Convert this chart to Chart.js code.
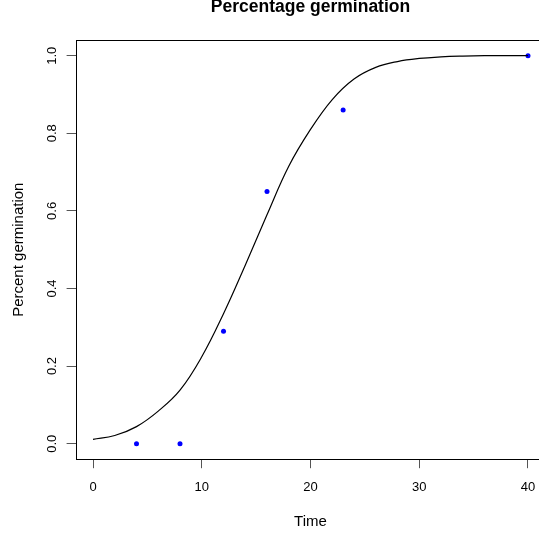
<!DOCTYPE html>
<html>
<head>
<meta charset="utf-8">
<script src="https://cdn.jsdelivr.net/npm/chart.js@4.4.0/dist/chart.umd.min.js"></script>
<style>
  html, body { margin: 0; padding: 0; background: #fff; overflow: hidden; }
  #wrap { width: 546px; height: 535px; }
</style>
</head>
<body>
<div id="wrap"><canvas id="germ" width="546" height="535" style="width:546px;height:535px"></canvas></div>
<script>
// observed germination
var times = [4, 8, 12, 16, 23, 40];
var germination = [0, 0, 0.29, 0.65, 0.86, 1.0];

// fitted curve
var fitTimes = [0, 2, 4, 6, 8, 10, 12, 14, 16, 18, 20, 22, 24, 26, 28, 30, 32, 34, 36, 38, 40];
var fitValues = [0.011, 0.021, 0.044, 0.084, 0.138, 0.224, 0.335, 0.46, 0.59, 0.715, 0.81, 0.887, 0.94, 0.97, 0.985, 0.993, 0.997, 0.999, 1.0, 1.0, 1.0];

// tick labels
var xTicks = [0, 10, 20, 30, 40];
var yTicks = [0, 0.2, 0.4, 0.6, 0.8, 1.0];

var FONT = '"Liberation Sans", Arial, sans-serif';
Chart.defaults.color = '#000';
Chart.defaults.font.family = FONT;

/**
box round the plot + rotated y labels (R style)
*/
var framePlugin = {
  id: 'frame',
  afterDraw: function(chart) {
    var ctx = chart.ctx, a = chart.chartArea, ys = chart.scales.y;
    ctx.save();
    ctx.strokeStyle = '#000';
    ctx.lineWidth = 1;
    ctx.strokeRect(Math.round(a.left) + 0.5, Math.round(a.top) + 0.5,
      Math.round(a.right - a.left), Math.round(a.bottom - a.top));
    ctx.fillStyle = '#000';
    ctx.font = '13px ' + FONT;
    ctx.textAlign = 'center';
    ctx.textBaseline = 'middle';
    yTicks.forEach(function(v) {
      ctx.save();
      ctx.translate(a.left - 23, ys.getPixelForValue(v));
      ctx.rotate(-Math.PI / 2);
      ctx.fillText(v.toFixed(1), 0, 0);
      ctx.restore();
    });
    ctx.restore();
  }
};

function fitPoints() {
  return fitTimes.map(function(t, i) { return {x: t, y: fitValues[i]}; });
}
function obsPoints() {
  return times.map(function(t, i) { return {x: t, y: germination[i]}; });
}

var config = {
  type: 'scatter',
  data: {
    datasets: [{
      type: 'line',
      data: fitPoints(),
      borderColor: '#000',
      borderWidth: 1.2,
      pointRadius: 0,
      tension: 0.4,
      fill: false
    }, {
      data: obsPoints(),
      backgroundColor: '#0000ff',
      borderWidth: 0,
      pointRadius: 2.5
    }]
  },
  options: {
    responsive: false,
    animation: false,
    // canvas is a bit wider than the window: the plot box runs past the right edge, like the R device
    layout: { autoPadding: false, padding: { left: 0, right: 0.6, top: 0, bottom: 0 } },
    plugins: {
      legend: { display: false },
      tooltip: { enabled: false },
      title: {
        display: true,
        text: 'Percentage germination',
        fullSize: false,
        color: '#000',
        font: { size: 17.5, weight: 'bold', lineHeight: '15px' },
        padding: { top: 0, bottom: 25.2 }
      }
    },
    scales: {
      x: {
        type: 'linear',
        min: -1.6,
        max: 41.6,
        afterBuildTicks: function(s) { s.ticks = xTicks.map(function(v) { return {value: v}; }); },
        afterFit: function(s) { s.height = 75.8; s.paddingLeft = 0; s.paddingRight = 0; },
        grid: { drawOnChartArea: false, drawTicks: true, tickLength: 9, color: '#555' },
        border: { display: false },
        ticks: { font: { size: 13 }, padding: 11, maxRotation: 0, autoSkip: false },
        title: { display: true, text: 'Time', font: { size: 15 }, padding: { top: 0, bottom: 4 } }
      },
      y: {
        type: 'linear',
        min: -0.04,
        max: 1.04,
        afterBuildTicks: function(s) { s.ticks = yTicks.map(function(v) { return {value: v}; }); },
        afterFit: function(s) { s.width = 75.6; s.paddingTop = 0; s.paddingBottom = 0; },
        grid: { drawOnChartArea: false, drawTicks: true, tickLength: 9, color: '#555' },
        border: { display: false },
        ticks: { display: false },
        title: { display: true, text: 'Percent germination', font: { size: 15 }, padding: { top: 9.5, bottom: 0 } }
      }
    }
  },
  plugins: [framePlugin]
};

var ctx = document.getElementById('germ').getContext('2d');
window.germChart = new Chart(ctx, config);
</script>
</body>
</html>
